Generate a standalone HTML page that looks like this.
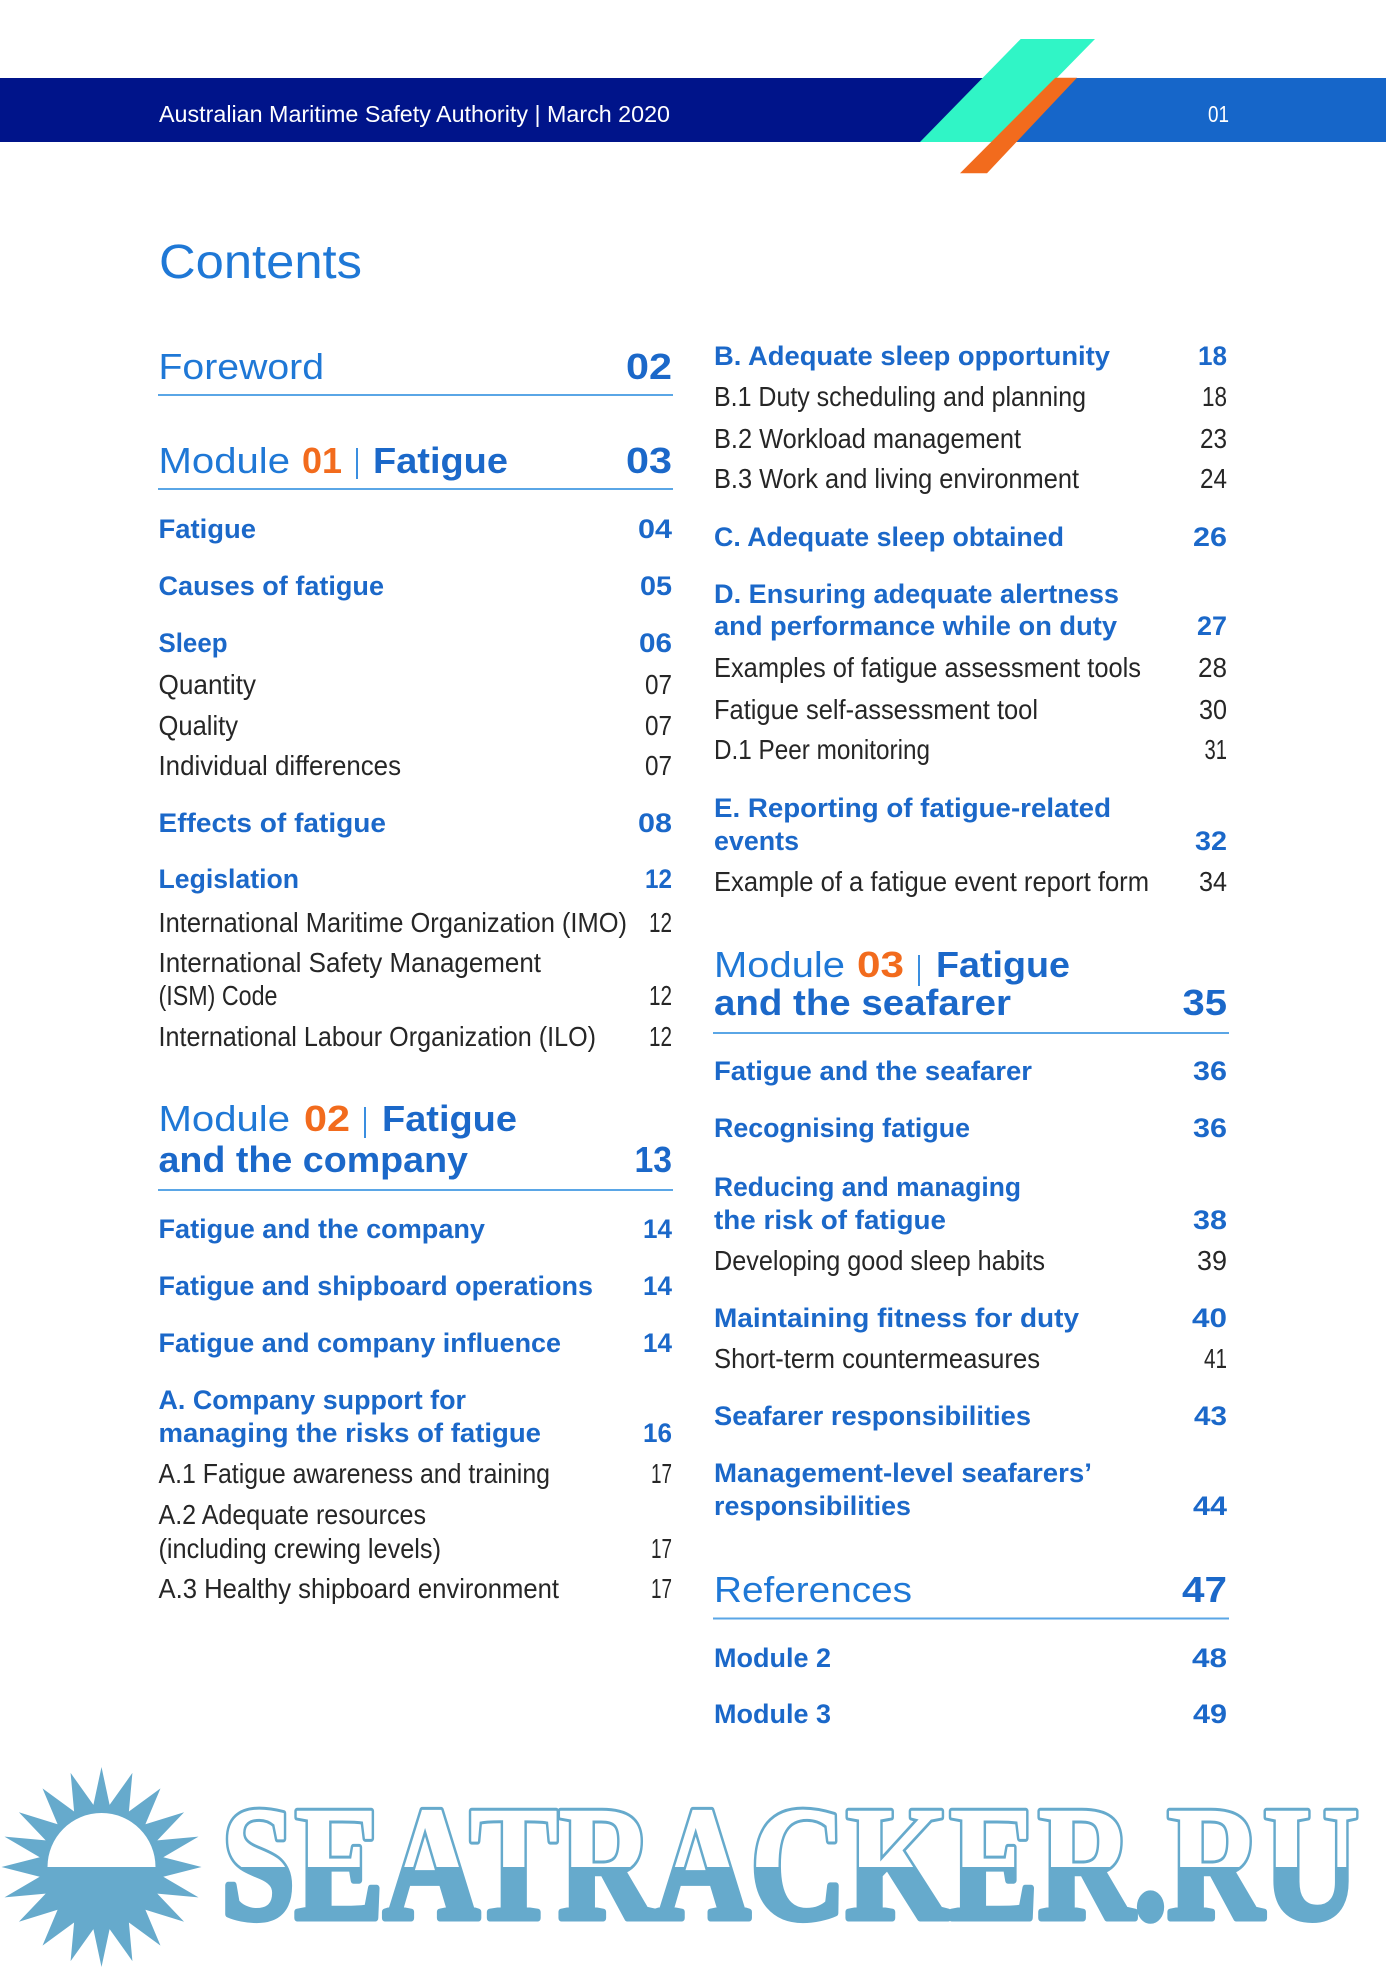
<!DOCTYPE html>
<html>
<head>
<meta charset="utf-8">
<style>
html,body{margin:0;padding:0;background:#fff;}
svg{display:block;}
.h{font-family:"Liberation Sans",Arial,sans-serif;}
.b{font-family:"Liberation Sans",Arial,sans-serif;font-weight:bold;fill:#1b68c9;font-size:27px;}
.r{font-family:"Liberation Sans",Arial,sans-serif;font-weight:normal;fill:#262626;font-size:28px;}
.lt{font-family:"Liberation Sans",Arial,sans-serif;font-weight:normal;fill:#1f78d6;font-size:36px;}
.bb{font-family:"Liberation Sans",Arial,sans-serif;font-weight:bold;fill:#1b68c9;font-size:36px;}
.or{font-family:"Liberation Sans",Arial,sans-serif;font-weight:bold;fill:#f26b1d;font-size:36px;}
.wm{font-family:"Liberation Serif",serif;font-weight:bold;font-size:163px;stroke-linejoin:round;}
</style>
</head>
<body>
<svg width="1386" height="1969" viewBox="0 0 1386 1969" xmlns="http://www.w3.org/2000/svg">
<rect x="0" y="0" width="1386" height="1969" fill="#ffffff"/>

<!-- Header band -->
<polygon points="0,78 984,78 922,142 0,142" fill="#00148a"/>
<polygon points="1062,78 1386,78 1386,142 1003,142" fill="#1666c9"/>
<polygon points="1020.7,39 1095,39 994,142 920,142" fill="#30f5c6"/>
<polygon points="1055.3,77.7 1077,77.7 987,173.3 960,173.3" fill="#f26b1d"/>
<text class="h" x="159" y="122" font-size="23" fill="#ffffff" textLength="511" lengthAdjust="spacingAndGlyphs">Australian Maritime Safety Authority | March 2020</text>
<text class="h" x="1208" y="122" font-size="23" fill="#ffffff" textLength="21" lengthAdjust="spacingAndGlyphs">01</text>

<!-- Contents title -->
<text class="h" x="159" y="278" font-size="48" fill="#1f78d6" textLength="203" lengthAdjust="spacingAndGlyphs">Contents</text>

<!-- ============ LEFT COLUMN ============ -->
<text class="lt" x="158.5" y="379" textLength="165.5" lengthAdjust="spacingAndGlyphs">Foreword</text>
<text class="bb" x="626" y="379" textLength="46" lengthAdjust="spacingAndGlyphs">02</text>
<rect x="158" y="394" width="515" height="2" fill="#5aa6e6"/>

<text class="lt" x="158.5" y="473" textLength="131.5" lengthAdjust="spacingAndGlyphs">Module</text>
<text class="or" x="302" y="473" textLength="40" lengthAdjust="spacingAndGlyphs">01</text>
<rect x="356" y="448" width="2" height="31" fill="#3a8ee0"/>
<text class="bb" x="373" y="473" textLength="135" lengthAdjust="spacingAndGlyphs">Fatigue</text>
<text class="bb" x="626" y="473" textLength="46" lengthAdjust="spacingAndGlyphs">03</text>
<rect x="158" y="488" width="515" height="2" fill="#5aa6e6"/>

<text class="b" x="158.5" y="538" textLength="97.5" lengthAdjust="spacingAndGlyphs">Fatigue</text>
<text class="b" x="638" y="538" textLength="34" lengthAdjust="spacingAndGlyphs">04</text>
<text class="b" x="158.5" y="595" textLength="225.5" lengthAdjust="spacingAndGlyphs">Causes of fatigue</text>
<text class="b" x="640" y="595" textLength="32" lengthAdjust="spacingAndGlyphs">05</text>
<text class="b" x="158.5" y="652" textLength="69" lengthAdjust="spacingAndGlyphs">Sleep</text>
<text class="b" x="639" y="652" textLength="33" lengthAdjust="spacingAndGlyphs">06</text>
<text class="r" x="158.5" y="694" textLength="97.5" lengthAdjust="spacingAndGlyphs">Quantity</text>
<text class="r" x="645" y="694" textLength="27" lengthAdjust="spacingAndGlyphs">07</text>
<text class="r" x="158.5" y="735" textLength="79.5" lengthAdjust="spacingAndGlyphs">Quality</text>
<text class="r" x="645" y="735" textLength="27" lengthAdjust="spacingAndGlyphs">07</text>
<text class="r" x="158.5" y="775" textLength="242.5" lengthAdjust="spacingAndGlyphs">Individual differences</text>
<text class="r" x="645" y="775" textLength="27" lengthAdjust="spacingAndGlyphs">07</text>

<text class="b" x="158.5" y="832" textLength="227.5" lengthAdjust="spacingAndGlyphs">Effects of fatigue</text>
<text class="b" x="638" y="832" textLength="34" lengthAdjust="spacingAndGlyphs">08</text>
<text class="b" x="158.5" y="888" textLength="140.5" lengthAdjust="spacingAndGlyphs">Legislation</text>
<text class="b" x="645" y="888" textLength="27" lengthAdjust="spacingAndGlyphs">12</text>
<text class="r" x="158.5" y="932" textLength="468.5" lengthAdjust="spacingAndGlyphs">International Maritime Organization (IMO)</text>
<text class="r" x="649" y="932" textLength="23" lengthAdjust="spacingAndGlyphs">12</text>
<text class="r" x="158.5" y="972" textLength="382.5" lengthAdjust="spacingAndGlyphs">International Safety Management</text>
<text class="r" x="158.5" y="1005" textLength="119" lengthAdjust="spacingAndGlyphs">(ISM) Code</text>
<text class="r" x="649" y="1005" textLength="23" lengthAdjust="spacingAndGlyphs">12</text>
<text class="r" x="158.5" y="1046" textLength="437.5" lengthAdjust="spacingAndGlyphs">International Labour Organization (ILO)</text>
<text class="r" x="649" y="1046" textLength="23" lengthAdjust="spacingAndGlyphs">12</text>

<text class="lt" x="158.5" y="1131" textLength="131.5" lengthAdjust="spacingAndGlyphs">Module</text>
<text class="or" x="304" y="1131" textLength="46" lengthAdjust="spacingAndGlyphs">02</text>
<rect x="364" y="1107" width="2" height="31" fill="#3a8ee0"/>
<text class="bb" x="382" y="1131" textLength="135" lengthAdjust="spacingAndGlyphs">Fatigue</text>
<text class="bb" x="158.5" y="1172" textLength="309.5" lengthAdjust="spacingAndGlyphs">and the company</text>
<text class="bb" x="634.5" y="1172" textLength="37.5" lengthAdjust="spacingAndGlyphs">13</text>
<rect x="158" y="1189" width="515" height="2" fill="#5aa6e6"/>

<text class="b" x="158.5" y="1238" textLength="326.5" lengthAdjust="spacingAndGlyphs">Fatigue and the company</text>
<text class="b" x="643" y="1238" textLength="29" lengthAdjust="spacingAndGlyphs">14</text>
<text class="b" x="158.5" y="1295" textLength="434.5" lengthAdjust="spacingAndGlyphs">Fatigue and shipboard operations</text>
<text class="b" x="643" y="1295" textLength="29" lengthAdjust="spacingAndGlyphs">14</text>
<text class="b" x="158.5" y="1352" textLength="402.5" lengthAdjust="spacingAndGlyphs">Fatigue and company influence</text>
<text class="b" x="643" y="1352" textLength="29" lengthAdjust="spacingAndGlyphs">14</text>
<text class="b" x="158.5" y="1409" textLength="307.5" lengthAdjust="spacingAndGlyphs">A. Company support for</text>
<text class="b" x="158.5" y="1442" textLength="382.5" lengthAdjust="spacingAndGlyphs">managing the risks of fatigue</text>
<text class="b" x="643" y="1442" textLength="29" lengthAdjust="spacingAndGlyphs">16</text>
<text class="r" x="158.5" y="1483" textLength="391.5" lengthAdjust="spacingAndGlyphs">A.1 Fatigue awareness and training</text>
<text class="r" x="651" y="1483" textLength="21" lengthAdjust="spacingAndGlyphs">17</text>
<text class="r" x="158.5" y="1524" textLength="267.5" lengthAdjust="spacingAndGlyphs">A.2 Adequate resources</text>
<text class="r" x="158.5" y="1558" textLength="282.5" lengthAdjust="spacingAndGlyphs">(including crewing levels)</text>
<text class="r" x="651" y="1558" textLength="21" lengthAdjust="spacingAndGlyphs">17</text>
<text class="r" x="158.5" y="1598" textLength="400.5" lengthAdjust="spacingAndGlyphs">A.3 Healthy shipboard environment</text>
<text class="r" x="651" y="1598" textLength="21" lengthAdjust="spacingAndGlyphs">17</text>

<!-- ============ RIGHT COLUMN ============ -->
<text class="b" x="714" y="365" textLength="396" lengthAdjust="spacingAndGlyphs">B. Adequate sleep opportunity</text>
<text class="b" x="1198" y="365" textLength="29" lengthAdjust="spacingAndGlyphs">18</text>
<text class="r" x="714" y="406" textLength="372" lengthAdjust="spacingAndGlyphs">B.1 Duty scheduling and planning</text>
<text class="r" x="1202" y="406" textLength="25" lengthAdjust="spacingAndGlyphs">18</text>
<text class="r" x="714" y="448" textLength="307" lengthAdjust="spacingAndGlyphs">B.2 Workload management</text>
<text class="r" x="1200" y="448" textLength="27" lengthAdjust="spacingAndGlyphs">23</text>
<text class="r" x="714" y="488" textLength="365" lengthAdjust="spacingAndGlyphs">B.3 Work and living environment</text>
<text class="r" x="1200" y="488" textLength="27" lengthAdjust="spacingAndGlyphs">24</text>

<text class="b" x="714" y="546" textLength="350" lengthAdjust="spacingAndGlyphs">C. Adequate sleep obtained</text>
<text class="b" x="1193" y="546" textLength="34" lengthAdjust="spacingAndGlyphs">26</text>
<text class="b" x="714" y="603" textLength="405" lengthAdjust="spacingAndGlyphs">D. Ensuring adequate alertness</text>
<text class="b" x="714" y="635" textLength="403" lengthAdjust="spacingAndGlyphs">and performance while on duty</text>
<text class="b" x="1197" y="635" textLength="30" lengthAdjust="spacingAndGlyphs">27</text>
<text class="r" x="714" y="677" textLength="427" lengthAdjust="spacingAndGlyphs">Examples of fatigue assessment tools</text>
<text class="r" x="1198" y="677" textLength="29" lengthAdjust="spacingAndGlyphs">28</text>
<text class="r" x="714" y="719" textLength="324" lengthAdjust="spacingAndGlyphs">Fatigue self-assessment tool</text>
<text class="r" x="1199" y="719" textLength="28" lengthAdjust="spacingAndGlyphs">30</text>
<text class="r" x="714" y="759" textLength="216" lengthAdjust="spacingAndGlyphs">D.1 Peer monitoring</text>
<text class="r" x="1204.5" y="759" textLength="22.5" lengthAdjust="spacingAndGlyphs">31</text>

<text class="b" x="714" y="817" textLength="397" lengthAdjust="spacingAndGlyphs">E. Reporting of fatigue-related</text>
<text class="b" x="714" y="850" textLength="85" lengthAdjust="spacingAndGlyphs">events</text>
<text class="b" x="1195" y="850" textLength="32" lengthAdjust="spacingAndGlyphs">32</text>
<text class="r" x="714" y="891" textLength="435" lengthAdjust="spacingAndGlyphs">Example of a fatigue event report form</text>
<text class="r" x="1199" y="891" textLength="28" lengthAdjust="spacingAndGlyphs">34</text>

<text class="lt" x="714" y="977" textLength="131" lengthAdjust="spacingAndGlyphs">Module</text>
<text class="or" x="857" y="977" textLength="47" lengthAdjust="spacingAndGlyphs">03</text>
<rect x="918" y="955" width="2" height="31" fill="#3a8ee0"/>
<text class="bb" x="936" y="977" textLength="134" lengthAdjust="spacingAndGlyphs">Fatigue</text>
<text class="bb" x="714" y="1015" textLength="297" lengthAdjust="spacingAndGlyphs">and the seafarer</text>
<text class="bb" x="1182.5" y="1015" textLength="44.5" lengthAdjust="spacingAndGlyphs">35</text>
<rect x="713" y="1032" width="516" height="2" fill="#5aa6e6"/>

<text class="b" x="714" y="1080" textLength="318" lengthAdjust="spacingAndGlyphs">Fatigue and the seafarer</text>
<text class="b" x="1193" y="1080" textLength="34" lengthAdjust="spacingAndGlyphs">36</text>
<text class="b" x="714" y="1137" textLength="256" lengthAdjust="spacingAndGlyphs">Recognising fatigue</text>
<text class="b" x="1193" y="1137" textLength="34" lengthAdjust="spacingAndGlyphs">36</text>
<text class="b" x="714" y="1196" textLength="307" lengthAdjust="spacingAndGlyphs">Reducing and managing</text>
<text class="b" x="714" y="1229" textLength="232" lengthAdjust="spacingAndGlyphs">the risk of fatigue</text>
<text class="b" x="1193" y="1229" textLength="34" lengthAdjust="spacingAndGlyphs">38</text>
<text class="r" x="714" y="1270" textLength="331" lengthAdjust="spacingAndGlyphs">Developing good sleep habits</text>
<text class="r" x="1197" y="1270" textLength="30" lengthAdjust="spacingAndGlyphs">39</text>

<text class="b" x="714" y="1327" textLength="365" lengthAdjust="spacingAndGlyphs">Maintaining fitness for duty</text>
<text class="b" x="1192" y="1327" textLength="35" lengthAdjust="spacingAndGlyphs">40</text>
<text class="r" x="714" y="1368" textLength="326" lengthAdjust="spacingAndGlyphs">Short-term countermeasures</text>
<text class="r" x="1204" y="1368" textLength="23" lengthAdjust="spacingAndGlyphs">41</text>
<text class="b" x="714" y="1425" textLength="317" lengthAdjust="spacingAndGlyphs">Seafarer responsibilities</text>
<text class="b" x="1194" y="1425" textLength="33" lengthAdjust="spacingAndGlyphs">43</text>
<text class="b" x="714" y="1482" textLength="378" lengthAdjust="spacingAndGlyphs">Management-level seafarers’</text>
<text class="b" x="714" y="1515" textLength="197" lengthAdjust="spacingAndGlyphs">responsibilities</text>
<text class="b" x="1193" y="1515" textLength="34" lengthAdjust="spacingAndGlyphs">44</text>

<text class="lt" x="714" y="1602" textLength="198" lengthAdjust="spacingAndGlyphs">References</text>
<text class="bb" x="1182" y="1602" textLength="45" lengthAdjust="spacingAndGlyphs">47</text>
<rect x="713" y="1617.5" width="516" height="2" fill="#5aa6e6"/>
<text class="b" x="714" y="1667" textLength="117" lengthAdjust="spacingAndGlyphs">Module 2</text>
<text class="b" x="1192" y="1667" textLength="35" lengthAdjust="spacingAndGlyphs">48</text>
<text class="b" x="714" y="1723" textLength="117" lengthAdjust="spacingAndGlyphs">Module 3</text>
<text class="b" x="1193" y="1723" textLength="34" lengthAdjust="spacingAndGlyphs">49</text>

<!-- ============ WATERMARK ============ -->
<defs>
  <clipPath id="topHalf"><rect x="0" y="1780" width="1386" height="87"/></clipPath>
  <clipPath id="botHalf"><rect x="0" y="1867" width="1386" height="102"/></clipPath>
</defs>
<polygon fill="#66aacc" points="
101.5,1767 109.6,1804.9 132.4,1772.9 128.9,1811.5 160.5,1788.4 145.4,1824.3 184.1,1812.2 157.3,1840.4 198.5,1836.6 163.3,1857.2 201.5,1867 163.3,1876.8 198.5,1897.4 157.3,1893.6 184.1,1921.8 145.4,1909.7 160.5,1945.6 128.9,1922.5 132.4,1961.1 109.6,1929.1 101.5,1967 93.4,1929.1 70.6,1961.1 74.1,1922.5 42.5,1945.6 57.6,1909.7 18.9,1921.8 45.7,1893.6 4.5,1897.4 39.7,1876.8 1.5,1867 39.7,1857.2 4.5,1836.6 45.7,1840.4 18.9,1812.2 57.6,1824.3 42.5,1788.4 74.1,1811.5 70.6,1772.9 93.4,1804.9"/>
<path d="M47.5,1867 A54,54 0 0 1 155.5,1867 Z" fill="#ffffff"/>
<g clip-path="url(#botHalf)">
  <text class="wm" x="221" y="1918" fill="#66aacc" stroke="#66aacc" stroke-width="7" textLength="1138" lengthAdjust="spacingAndGlyphs">SEATRACKER.RU</text>
</g>
<g clip-path="url(#topHalf)">
  <text class="wm" x="221" y="1918" fill="#66aacc" stroke="#66aacc" stroke-width="7" textLength="1138" lengthAdjust="spacingAndGlyphs">SEATRACKER.RU</text>
  <text class="wm" x="221" y="1918" fill="#ffffff" stroke="#ffffff" stroke-width="1" textLength="1138" lengthAdjust="spacingAndGlyphs">SEATRACKER.RU</text>
</g>
</svg>
</body>
</html>
